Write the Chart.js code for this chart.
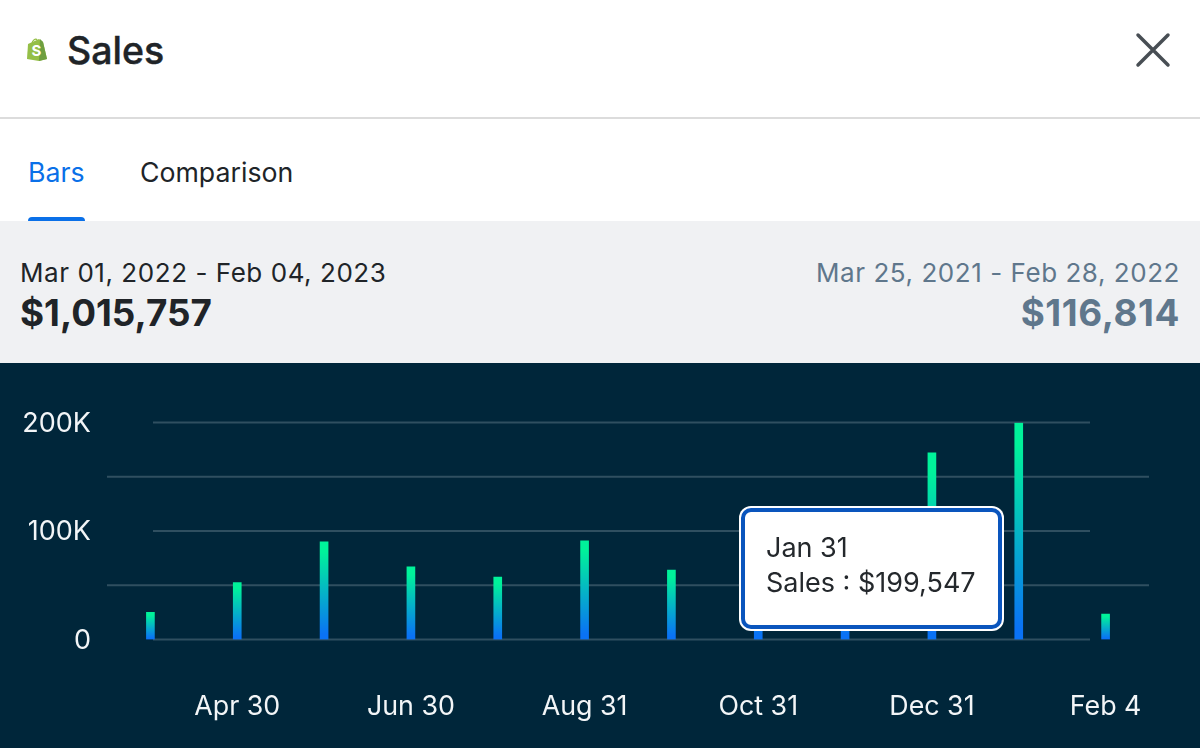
<!DOCTYPE html>
<html>
<head>
<meta charset="utf-8">
<title>Sales</title>
<script src="https://cdn.jsdelivr.net/npm/chart.js@4"></script>
<style>
    html, body { margin:0; padding:0; width:1200px; height:748px; overflow:hidden; background:#fff; font-family:Inter, sans-serif; color:#202428; }
    .abs { position:absolute; white-space:nowrap; line-height:1; }
    #band { position:absolute; left:0; top:221px; width:1200px; height:142px; background:#f0f1f3; }
    #rule { position:absolute; left:0; top:117px; width:1200px; height:2px; background:#dcdcdc; }
    #tabLine { position:absolute; left:28px; top:217px; width:57px; height:4px; background:#0a70e8; border-radius:4px 4px 0 0; }
    #chartWrap { position:absolute; left:0; top:363px; width:1200px; height:385px; background:#00263a; }
    #tip { position:absolute; display:none; box-sizing:border-box; left:741px; top:508px; width:261px; height:121px; background:#fff;
           border:4px solid #0a55bd; border-radius:10px; box-shadow:0 0 0 2px #fff; font-size:27px; color:#24282c; }
    #tip div { position:absolute; left:21px; white-space:nowrap; line-height:1; }
</style>
</head>
<body>
<svg class="abs" style="left:26px;top:37px" width="22" height="25" viewBox="0 0 22 25">
    <path d="M2 7 L13 2 L17 5 L21 22 L13 24 L1 22 Z" fill="#95bf47"/>
    <path d="M14 2 L17 5 L21 22 L13 24 Z" fill="#6f9f40"/>
    <path d="M6 7 C6 3 10 1 11 3" fill="none" stroke="#95bf47" stroke-width="1.2"/>
    <text x="5.5" y="19" font-family="Inter" font-size="15" font-weight="700" fill="#fff">S</text>
</svg>
<div class="abs" style="left:67px;top:32px;font-size:37.5px;font-weight:500;-webkit-text-stroke:0.4px #202428">Sales</div>
<svg class="abs" style="left:1135px;top:32px" width="36" height="36" viewBox="0 0 36 36">
    <path d="M3 3 L33 33 M33 3 L3 33" stroke="#484e54" stroke-width="3.5" stroke-linecap="round"/>
</svg>
<div id="rule"></div>
<div class="abs" style="left:28px;top:159px;font-size:26.7px;color:#0a70e8">Bars</div>
<div class="abs" style="left:140px;top:159px;font-size:26.7px;color:#202428">Comparison</div>
<div id="band"></div>
<div id="tabLine"></div>
<div class="abs" style="left:20px;top:260px;font-size:26px;letter-spacing:0.55px">Mar 01, 2022 - Feb 04, 2023</div>
<div class="abs" style="left:20px;top:295px;font-size:36.8px;font-weight:700">$1,015,757</div>
<div class="abs" style="right:20px;top:260px;font-size:26px;letter-spacing:0.55px;color:#5f778c">Mar 25, 2021 - Feb 28, 2022</div>
<div class="abs" style="right:20px;top:295px;font-size:36.8px;font-weight:700;letter-spacing:0.6px;color:#5f778c">$116,814</div>
<div id="chartWrap"><canvas id="chartSales" width="1200" height="385"></canvas></div>
<div id="tip"><div id="tipTitle" style="top:22px"></div><div id="tipBody" style="top:57px"></div></div>

<script>
const CATEGORIES = ['Mar 31','Apr 30','May 31','Jun 30','Jul 31','Aug 31','Sep 30','Oct 31','Nov 30','Dec 31','Jan 31','Feb 4'];
const SALES = [25000, 52500, 90000, 67000, 57500, 91000, 64000, 85000, 89000, 172000, 199547, 23500];
const X_TICK_LABELS = ['Apr 30','Jun 30','Aug 31','Oct 31','Dec 31','Feb 4'];
const Y_TICK_LABELS = { 0:'0', 100000:'100K', 200000:'200K' };
const ACTIVE_INDEX = 10;

const GRID = '#2f4f60';

// 라벨 있는 눈금선은 짧고, 없는 눈금선은 플롯 전체 폭
const gridPlugin = {
    id: 'salesGrid',
    beforeDatasetsDraw(chart) {
        const { ctx, chartArea, scales } = chart;
        ctx.save();
        ctx.strokeStyle = GRID;
        ctx.lineWidth = 2;
        scales.y.ticks.forEach(t => {
            const labeled = Y_TICK_LABELS[t.value] !== undefined;
            const py = scales.y.getPixelForValue(t.value);
            ctx.beginPath();
            ctx.moveTo(labeled ? 153 : chartArea.left, py);
            ctx.lineTo(labeled ? 1090 : chartArea.right, py);
            ctx.stroke();
        });
        ctx.restore();
    }
};

function barGradient(c) {
    const { chart, parsed } = c;
    if (!chart.chartArea || !parsed) return '#00f29a';
    const yScale = chart.scales.y;
    const g = chart.ctx.createLinearGradient(0, yScale.getPixelForValue(parsed.y), 0, yScale.getPixelForValue(0));
    g.addColorStop(0.1, '#00f29a');
    g.addColorStop(0.95, '#0a72f5');
    return g;
}

function drawTip({ tooltip }) {
    const tip = document.getElementById('tip');
    if (!tooltip.dataPoints || !tooltip.dataPoints.length) { tip.style.display = 'none'; return; }
    document.getElementById('tipTitle').textContent = tooltip.title[0];
    document.getElementById('tipBody').textContent = tooltip.body[0].lines[0];
    tip.style.display = 'block';
}

const chartSales = new Chart(document.getElementById('chartSales'), {
    type: 'bar',
    plugins: [gridPlugin],
    data: {
        labels: CATEGORIES,
        datasets: [{ label: 'Sales', data: SALES, backgroundColor: barGradient, barThickness: 8, borderWidth: 0 }]
    },
    options: {
        responsive: false,
        animation: false,
        events: [],
        layout: { padding: { top: 59.5, right: 51, bottom: 0, left: 0 } },
        plugins: {
            legend: { display: false },
            tooltip: {
                enabled: false,
                external: drawTip,
                callbacks: { label: c => c.dataset.label + ' : $' + c.parsed.y.toLocaleString('en-US') }
            }
        },
        scales: {
            x: {
                afterFit: s => { s.height = 108.5; },
                grid: { display: false },
                border: { display: false },
                ticks: {
                    color: '#f2f5f7', padding: 43, maxRotation: 0, autoSkip: false,
                    font: { family: 'Inter', size: 26.8 },
                    callback(v) { const l = this.getLabelForValue(v); return X_TICK_LABELS.includes(l) ? l : ''; }
                }
            },
            y: {
                min: 0, max: 200000,
                afterFit: s => { s.width = 107; },
                grid: { display: false },
                border: { display: false },
                ticks: {
                    stepSize: 50000, color: '#f2f5f7', padding: 8, labelOffset: 1,
                    font: { family: 'Inter', size: 27 },
                    callback: v => Y_TICK_LABELS[v] !== undefined ? Y_TICK_LABELS[v] : ''
                }
            }
        }
    }
});

chartSales.tooltip.setActiveElements([{ datasetIndex: 0, index: ACTIVE_INDEX }], { x: 0, y: 0 });
chartSales.update('none');
</script>
</body>
</html>
